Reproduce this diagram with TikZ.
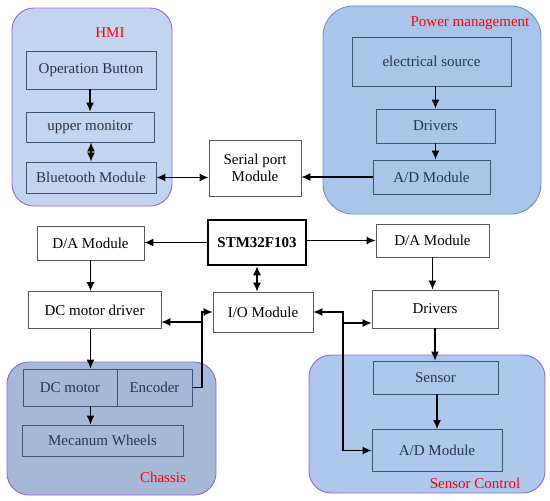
\documentclass[tikz,border=0pt]{standalone}
\usepackage{fontspec}
\setmainfont{Liberation Serif}
\usetikzlibrary{arrows.meta}

\definecolor{hmifill}{HTML}{C3D4EE}
\definecolor{pwrfill}{HTML}{A9C5E9}
\definecolor{chsfill}{HTML}{A6B9D6}
\definecolor{senfill}{HTML}{AEC7EC}
\definecolor{purpleline}{HTML}{9B63D8}
\definecolor{pwrline}{HTML}{6F8FC4}
\definecolor{innerline}{HTML}{3B5578}
\definecolor{innertext}{HTML}{26344E}

\newcommand{\boxfont}{\fontsize{15}{17.5}\selectfont}

\tikzset{
  inbox/.style={draw=innerline, line width=0.9pt, text=innertext, inner sep=0pt},
  outbox/.style={draw=black!65, line width=0.8pt, fill=white, inner sep=0pt, align=center},
  mcu/.style={draw=black, line width=2.6pt, fill=white, inner sep=0pt, font=\boxfont\bfseries},
  group/.style={line width=0.9pt, rounded corners=22pt},
  grouplabel/.style={text=red, inner sep=0pt},
  arr/.style={line width=1.2pt, -{Latex[length=9pt,width=8pt]}},
  darr/.style={line width=1.2pt, {Latex[length=9pt,width=8pt]}-{Latex[length=9pt,width=8pt]}}
}

\begin{document}
\begin{tikzpicture}[x=1pt, y=-1pt, font=\boxfont]
\useasboundingbox (0,0) rectangle (550,501);

% groups
\draw[group, draw=purpleline, fill=hmifill] (12,8) rectangle (172,206);
\draw[group, draw=pwrline, fill=pwrfill, rounded corners=30pt] (323,6) rectangle (541,214);
\draw[group, draw=purpleline, fill=chsfill] (7,362) rectangle (216,495);
\draw[group, draw=purpleline, fill=senfill] (309,355) rectangle (545,493);

\node[grouplabel] (hmi) at (110,33) {HMI};
\node[grouplabel] (pwr) at (470,23) {Power management};
\node[grouplabel] (chs) at (163,477) {Chassis};
\node[grouplabel] (sct) at (475,483) {Sensor Control};

% HMI
\node[inbox, minimum width=130pt, minimum height=38pt] (ob) at (91,70) {Operation Button};
\node[inbox, minimum width=128pt, minimum height=30pt] (um) at (90,127) {upper monitor};
\node[inbox, minimum width=130pt, minimum height=31pt] (bt) at (91,177.5) {Bluetooth Module};

% power management
\node[inbox, minimum width=159pt, minimum height=49pt] (es) at (431.5,61.5) {electrical source};
\node[inbox, minimum width=119pt, minimum height=34pt] (pdrv) at (435.5,126) {Drivers};
\node[inbox, minimum width=117pt, minimum height=34pt] (pad) at (431.5,177) {A/D Module};

% middle
\node[outbox, minimum width=92pt, minimum height=56pt] (serial) at (255,168) {Serial port\\Module};
\node[mcu, minimum width=98pt, minimum height=45pt] (stm) at (257,242.5) {STM32F103};
\node[outbox, minimum width=107pt, minimum height=34pt] (dal) at (90.5,243) {D/A Module};
\node[outbox, minimum width=113pt, minimum height=33pt] (dar) at (432.5,240.5) {D/A Module};
\node[outbox, minimum width=133pt, minimum height=37pt] (dcd) at (94.5,310) {DC motor driver};
\node[outbox, minimum width=100pt, minimum height=40pt] (io) at (263,312) {I/O Module};
\node[outbox, minimum width=126pt, minimum height=38pt] (sdrv) at (435,309) {Drivers};

% chassis
\node[inbox, minimum width=94pt, minimum height=37pt] (dcm) at (70,387.5) {DC motor};
\node[inbox, minimum width=75pt, minimum height=37pt] (enc) at (154.5,387.5) {Encoder};
\node[inbox, minimum width=161pt, minimum height=31pt] (mw) at (102.5,440.5) {Mecanum Wheels};

% sensor control
\node[inbox, minimum width=125pt, minimum height=33pt] (sen) at (435.5,377.5) {Sensor};
\node[inbox, minimum width=130pt, minimum height=42pt] (sad) at (437,450.5) {A/D Module};

\coordinate (lbus) at (202,322);
\coordinate (rbus) at (343,323);

% connectors
\draw[arr] (ob.south -| um) -- (um.north);
\draw[darr] (um.south -| bt) -- (bt.north);
\draw[darr] (bt.east) -- (bt.east -| serial.west);
\draw[arr] (es.south -| pdrv) -- (pdrv.north);
\draw[arr] (pdrv.south) -- (pdrv.south |- pad.north);
\draw[arr] (pad.west) -- (pad.west -| serial.east);

\draw[arr] (stm.west) -- (stm.west -| dal.east);
\draw[arr] (stm.east |- dar) -- (dar.west);
\draw[darr] (stm.south) -- (stm.south |- io.north);
\draw[arr] (dal.south) -- (dal.south |- dcd.north);
\draw[arr] (dal.south |- dcd.south) -- (dal.south |- dcm.north);
\draw[arr] (dal.south |- dcm.south) -- (dal.south |- mw.north);
\draw[arr] (dar.south) -- (dar.south |- sdrv.north);
\draw[arr] (sdrv.south) -- (sdrv.south |- sen.north);
\draw[arr] (sen.south -| sad) -- (sad.north);

\draw[arr] (enc.east) -| (lbus) |- (io.west);
\draw[arr] (lbus) -- (lbus -| dcd.east);
\draw[arr] (rbus) |- (io.east);
\draw[arr] (rbus) -- (rbus -| sdrv.west);
\draw[arr] (rbus) |- (sad.west);
\end{tikzpicture}
\end{document}
